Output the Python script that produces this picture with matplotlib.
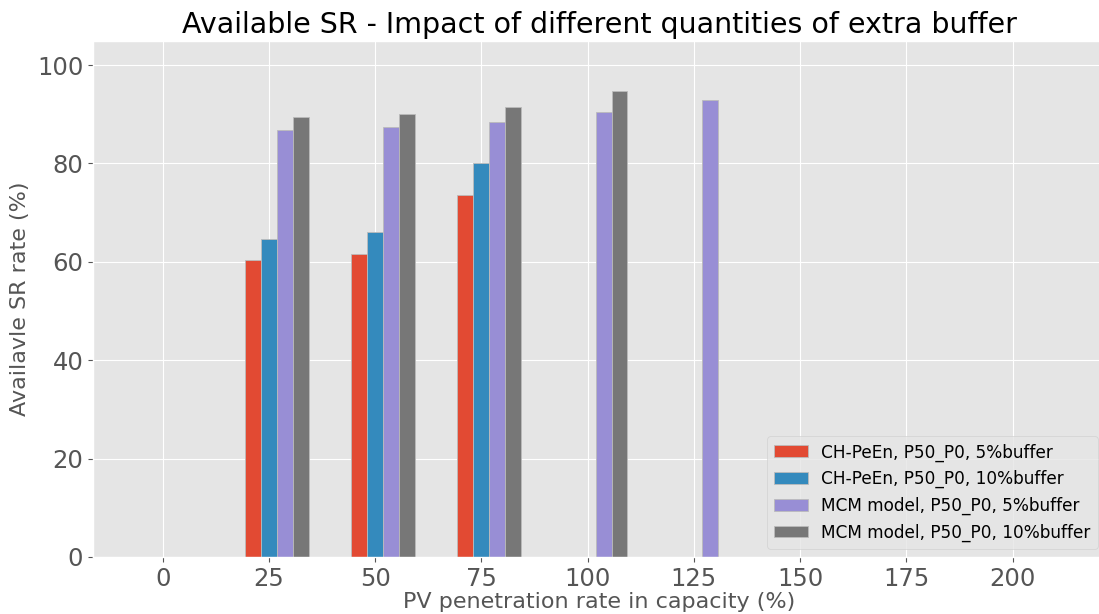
import matplotlib
matplotlib.use("Agg")
import matplotlib.pyplot as plt
import numpy as np

plt.style.use("ggplot")

x_positions = [25, 50, 75, 100, 125]
ch_5 = [60.3, 61.6, 73.6, 0, 0]
ch_10 = [64.6, 66.0, 80.1, 0, 0]
mcm_5 = [86.8, 87.4, 88.4, 90.4, 92.9]
mcm_10 = [89.4, 90.0, 91.4, 94.8, 0]
labels = ["CH-PeEn, P50_P0, 5%buffer", "CH-PeEn, P50_P0, 10%buffer",
          "MCM model, P50_P0, 5%buffer", "MCM model, P50_P0, 10%buffer"]
xticks = [0, 25, 50, 75, 100, 125, 150, 175, 200]
yticks = [0, 20, 40, 60, 80, 100]

W, H = 1099, 614
fig = plt.figure(figsize=(W / 100, H / 100), dpi=100)
ax = fig.add_axes([93 / W, 1 - 557 / H, (1106 - 93) / W, (557 - 41) / H])

w = 3.75
x = np.array(x_positions, dtype=float)
series = [ch_5, ch_10, mcm_5, mcm_10]
for i, (vals, lab) in enumerate(zip(series, labels)):
    ax.bar(x + (i - 1) * w, vals, width=w, label=lab,
           edgecolor="#BBBBBB", linewidth=0.6)

ax.set_xlim(-16.4, 222.0)
ax.set_ylim(0, 104.9)
ax.set_xticks(xticks)
ax.set_yticks(yticks)
ax.tick_params(labelsize=17.5, colors="#555555")
ax.set_xlabel("PV penetration rate in capacity (%)", fontsize=16, color="#555555", labelpad=1)
ax.set_ylabel("Availavle SR rate (%)", fontsize=16, color="#555555", labelpad=5)
ax.set_title("Available SR - Impact of different quantities of extra buffer", fontsize=20.5, color="black", pad=6)
ax.legend(loc="lower right", fontsize=12.2)

fig.savefig("out.png", dpi=100)
